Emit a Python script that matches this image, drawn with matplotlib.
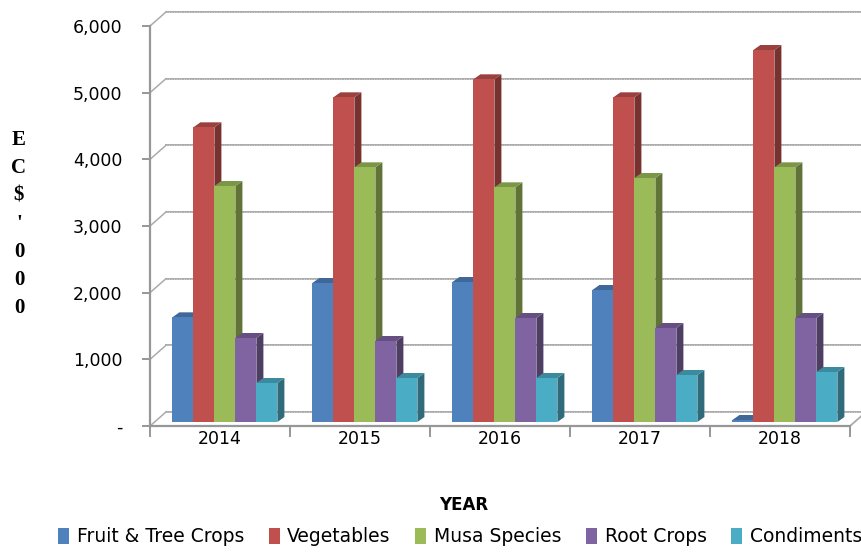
import numpy as np
import matplotlib.pyplot as plt
from matplotlib.patches import Polygon
from matplotlib.colors import to_rgb

years = ['2014', '2015', '2016', '2017', '2018']
series = ['Fruit & Tree Crops', 'Vegetables', 'Musa Species', 'Root Crops', 'Condiments']
fruit = [1570, 2085, 2100, 1980, 30]
vegetables = [4420, 4870, 5140, 4870, 5580]
musa = [3540, 3820, 3520, 3660, 3820]
root = [1260, 1215, 1560, 1410, 1560]
condiments = [585, 660, 660, 705, 750]
colors = ['#4F81BD', '#C0504D', '#9BBB59', '#8064A2', '#4BACC6']
yticks = [0, 1000, 2000, 3000, 4000, 5000, 6000]
ytick_labels = ['-', '1,000', '2,000', '3,000', '4,000', '5,000', '6,000']

values = [fruit, vegetables, musa, root, condiments]


def shade(c, f):
    r, g, b = to_rgb(c)
    return (r * f, g * f, b * f)


fig = plt.figure(figsize=(8.62, 5.53), dpi=100)
# 1 category = 140 px, 1000 units = 66.7 px
ax = fig.add_axes([150 / 862, (553 - 446) / 553, 712 / 862, 440 / 553])
ax.set_xlim(0, 5 * 712 / 700)
ax.set_ylim(-300, 6300)

# back wall and floor
wx, wy = 0.114, 210
grid_c = '#ababab'
for v in yticks:
    ax.plot([wx, ax.get_xlim()[1]], [v + wy, v + wy], color=grid_c, lw=1.4, zorder=1)
    ax.plot([wx, ax.get_xlim()[1]], [v + wy, v + wy], color='white', lw=0.6,
            ls=(0, (1, 2)), alpha=0.6, zorder=1)
    ax.plot([0, wx], [v, v + wy], color=grid_c, lw=1.1, zorder=1)
ax.plot([5, 5 + wx], [0, wy], color=grid_c, lw=1.3, zorder=1)

# bars with fake depth
bw = 0.15
bx, by = 0.05, 75
base = 60
z = 3
for i in range(len(years)):
    for j, vals in enumerate(values):
        x0 = i + 0.5 - 2.5 * bw + j * bw + 0.035
        h = vals[i]
        side = Polygon([(x0 + bw, base), (x0 + bw + bx, base + by),
                        (x0 + bw + bx, base + h + by), (x0 + bw, base + h)],
                       closed=True, facecolor=shade(colors[j], 0.62), edgecolor='none', zorder=z)
        top = Polygon([(x0, base + h), (x0 + bx, base + h + by),
                       (x0 + bw + bx, base + h + by), (x0 + bw, base + h)],
                      closed=True, facecolor=shade(colors[j], 0.8), edgecolor='none', zorder=z)
        ax.add_patch(side)
        ax.add_patch(top)
        ax.bar(x0, h, width=bw, bottom=base, align='edge', color=colors[j],
               label=series[j] if i == 0 else None, zorder=z + 1)
        z += 2

# axes
for s in ['top', 'right']:
    ax.spines[s].set_visible(False)
ax.spines['left'].set_bounds(0, 6000)
ax.spines['bottom'].set_position(('data', 0))
ax.spines['bottom'].set_bounds(0, 5)
for s in ['left', 'bottom']:
    ax.spines[s].set_color('#979797')
    ax.spines[s].set_linewidth(1.6)

ax.set_yticks(yticks)
ax.set_yticklabels(ytick_labels, fontsize=12.5)
ax.tick_params(axis='y', length=6, width=1.4, color='#979797', pad=14)
ax.set_xticks(np.arange(5) + 0.5)
ax.set_xticklabels(years, fontsize=12.5)
ax.set_xticks(np.arange(6), minor=True)
ax.tick_params(axis='x', which='major', length=0, pad=3)
ax.tick_params(axis='x', which='minor', length=8, width=1.4, color='#979797')

# vertical stacked y label
for k, ch in enumerate(['E', 'C', '$', "'", '0', '0', '0']):
    fig.text(19 / 862, 1 - (140 + k * 28) / 553, ch, family='Liberation Serif',
             fontweight='bold', fontsize=15, ha='center', va='center')

fig.text(464 / 862, 1 - 505 / 553, 'YEAR', fontsize=12, fontweight='bold', ha='center', va='center')

fig.legend(loc='center', bbox_to_anchor=(460 / 862, 1 - 537 / 553), ncol=5,
           frameon=False, handlelength=0.6, handleheight=0.9, handletextpad=0.4,
           columnspacing=1.3, prop={'family': 'DejaVu Sans', 'size': 13.5})

fig.savefig('out.png', dpi=100)
